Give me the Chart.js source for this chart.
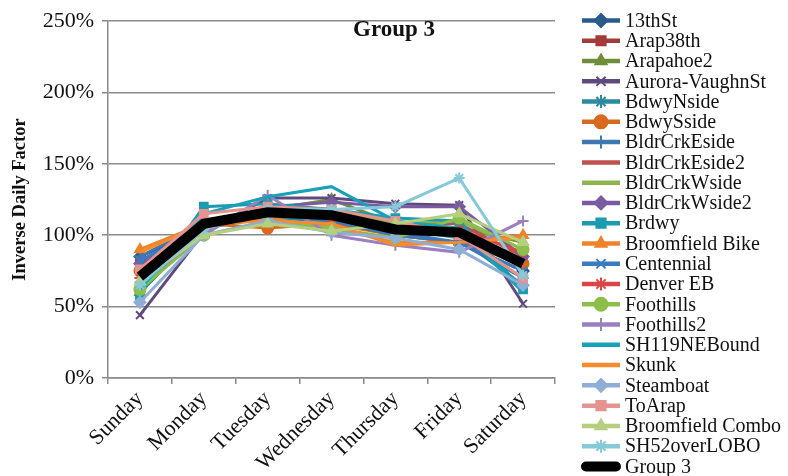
<!DOCTYPE html>
<html>
<head>
<meta charset="utf-8">
<script src="https://cdn.jsdelivr.net/npm/chart.js@4/dist/chart.umd.min.js"></script>
<style>
  html, body { margin: 0; padding: 0; background: #fff; }
</style>
</head>
<body>
<canvas id="chart" width="788" height="476"></canvas>
<script>
const days = ['Sunday', 'Monday', 'Tuesday', 'Wednesday', 'Thursday', 'Friday', 'Saturday'];
const yTickValues = [0, 50, 100, 150, 200, 250];

// inverse daily factor, percent
const s13thSt         = [85, 105, 115, 112, 100, 95, 75];
const sArap38th       = [80, 105, 117, 115, 105, 100, 80];
const sArapahoe2      = [60, 105, 118, 125, 108, 105, 95];
const sAuroraVaughn   = [44, 102, 126, 126, 122, 121, 52];
const sBdwyNside      = [60, 105, 112, 110, 105, 98, 65];
const sBdwySside      = [75, 108, 105, 108, 100, 95, 80];
const sBldrCrkEside   = [85, 108, 115, 110, 100, 95, 70];
const sBldrCrkEside2  = [78, 108, 117, 113, 108, 108, 85];
const sBldrCrkWside   = [65, 104, 120, 118, 108, 110, 90];
const sBldrCrkWside2  = [80, 105, 120, 123, 120, 120, 85];
const sBrdwy          = [58, 120, 122, 118, 112, 110, 62];
const sBroomBike      = [90, 108, 112, 105, 95, 95, 100];
const sCentennial     = [82, 106, 115, 112, 102, 95, 75];
const sDenverEB       = [70, 104, 116, 112, 105, 104, 88];
const sFoothills      = [62, 100, 110, 105, 98, 112, 90];
const sFoothills2     = [67, 100, 128, 100, 93, 88, 110];
const sSH119NE        = [62, 115, 127, 134, 110, 105, 60];
const sSkunk          = [88, 108, 110, 108, 93, 95, 98];
const sSteamboat      = [53, 100, 110, 102, 98, 90, 65];
const sToArap         = [76, 115, 120, 118, 110, 100, 70];
const sBroomCombo     = [68, 100, 108, 103, 108, 115, 95];
const sSH52overLOBO   = [65, 104, 118, 118, 120, 140, 72];
const sGroup3         = [71, 108, 116, 114, 104, 102, 80];

const seriesNames = ['13thSt', 'Arap38th', 'Arapahoe2', 'Aurora-VaughnSt', 'BdwyNside', 'BdwySside',
  'BldrCrkEside', 'BldrCrkEside2', 'BldrCrkWside', 'BldrCrkWside2', 'Brdwy', 'Broomfield Bike',
  'Centennial', 'Denver EB', 'Foothills', 'Foothills2', 'SH119NEBound', 'Skunk', 'Steamboat',
  'ToArap', 'Broomfield Combo', 'SH52overLOBO', 'Group 3'];
const seriesValues = [s13thSt, sArap38th, sArapahoe2, sAuroraVaughn, sBdwyNside, sBdwySside,
  sBldrCrkEside, sBldrCrkEside2, sBldrCrkWside, sBldrCrkWside2, sBrdwy, sBroomBike,
  sCentennial, sDenverEB, sFoothills, sFoothills2, sSH119NE, sSkunk, sSteamboat,
  sToArap, sBroomCombo, sSH52overLOBO, sGroup3];

const colors = ['#2A5B8A', '#A53A3A', '#6E8E3A', '#5E4A7C', '#2A8A9E', '#D9691F',
  '#3F77B3', '#C0504D', '#8FB34F', '#7A5BA0', '#1C9AAF', '#F0832A',
  '#3A7BC0', '#D94444', '#8CBF4A', '#9A80C0', '#17A2BA', '#F58A2E', '#8EAED6',
  '#E5938F', '#B4D07F', '#86C9D9', '#000000'];
const markers = ['rectRot', 'rect', 'triangle', 'crossRot', 'star', 'circle',
  'cross', false, false, 'rectRot', 'rect', 'triangle',
  'crossRot', 'star', 'circle', 'cross', false, false, 'rectRot',
  'rect', 'triangle', 'star', false];

const serif = '"Liberation Serif", "Times New Roman", serif';

const datasets = seriesNames.map((name, i) => {
  const isGroup = name === 'Group 3';
  return {
    label: name,
    data: seriesValues[i],
    borderColor: colors[i],
    backgroundColor: colors[i],
    borderWidth: isGroup ? 10 : 3,
    pointStyle: markers[i],
    pointRadius: markers[i] ? 5.5 : 0,
    pointBorderWidth: 2,
    tension: 0,
    order: isGroup ? -1 : 30 - i
  };
});

// legend on the right: line sample with marker, then the name
const sideLegend = {
  id: 'sideLegend',
  afterDraw(chart) {
    const ctx = chart.ctx;
    const x0 = chart.chartArea.right + 27;
    ctx.save();
    ctx.font = '20px ' + serif;
    ctx.textBaseline = 'middle';
    ctx.textAlign = 'left';
    chart.data.datasets.forEach((ds, i) => {
      const y = 20.5 + i * 20.27;
      const isGroup = ds.label === 'Group 3';
      ctx.strokeStyle = ds.borderColor;
      ctx.fillStyle = ds.borderColor;
      ctx.lineWidth = isGroup ? 10 : 4.5;
      ctx.lineCap = isGroup ? 'round' : 'butt';
      ctx.beginPath();
      ctx.moveTo(x0 + (isGroup ? 4 : 0), y);
      ctx.lineTo(x0 + (isGroup ? 34 : 38), y);
      ctx.stroke();
      if (ds.pointStyle) {
        ctx.lineWidth = 2;
        ctx.lineCap = 'butt';
        Chart.helpers.drawPoint(ctx, {pointStyle: ds.pointStyle, radius: 6.5, rotation: 0, borderWidth: 2}, x0 + 19, y);
      }
      ctx.fillStyle = '#111';
      ctx.fillText(ds.label, x0 + 43, y + 1);
    });
    ctx.restore();
  }
};

const plotTitle = {
  id: 'plotTitle',
  afterDatasetsDraw(chart) {
    const {ctx, chartArea} = chart;
    ctx.save();
    ctx.font = 'bold 23px ' + serif;
    ctx.fillStyle = '#111';
    ctx.textAlign = 'center';
    ctx.textBaseline = 'middle';
    ctx.fillText('Group 3', chartArea.left + chartArea.width * 0.64, chartArea.top + 9);
    ctx.restore();
  }
};

new Chart(document.getElementById('chart'), {
  type: 'line',
  data: { labels: days, datasets },
  options: {
    responsive: false,
    devicePixelRatio: 1,
    animation: false,
    layout: { padding: { top: 21, right: 233, bottom: 0, left: 0 } },
    plugins: {
      legend: { display: false },
      tooltip: { enabled: false }
    },
    scales: {
      x: {
        offset: true,
        grid: { offset: true, drawOnChartArea: false, color: '#8a8a8a', lineWidth: 1.5, tickLength: 6 },
        border: { color: '#8a8a8a', width: 1.5 },
        ticks: {
          color: '#111',
          font: { family: serif, size: 22 },
          maxRotation: 45,
          minRotation: 45,
          padding: 2
        },
        afterFit(scale) {
          scale.height = 98;
          scale.paddingLeft = 0;
          scale.paddingRight = 0;
        }
      },
      y: {
        min: 0,
        max: 250,
        afterBuildTicks(scale) {
          scale.ticks = yTickValues.map(v => ({ value: v }));
        },
        grid: { color: '#8a8a8a', lineWidth: 1.5, tickLength: 6 },
        border: { color: '#8a8a8a', width: 1.5 },
        ticks: {
          color: '#111',
          font: { family: serif, size: 22 },
          padding: 8,
          callback: v => v + '%'
        },
        title: {
          display: true,
          text: 'Inverse Daily Factor',
          color: '#111',
          font: { family: serif, size: 18.5, weight: 'bold' },
          padding: { top: 9, bottom: 4 }
        },
        afterFit(scale) {
          scale.width = 108;
          scale.paddingTop = 0;
          scale.paddingBottom = 0;
        }
      }
    }
  },
  plugins: [sideLegend, plotTitle]
});
</script>
</body>
</html>
